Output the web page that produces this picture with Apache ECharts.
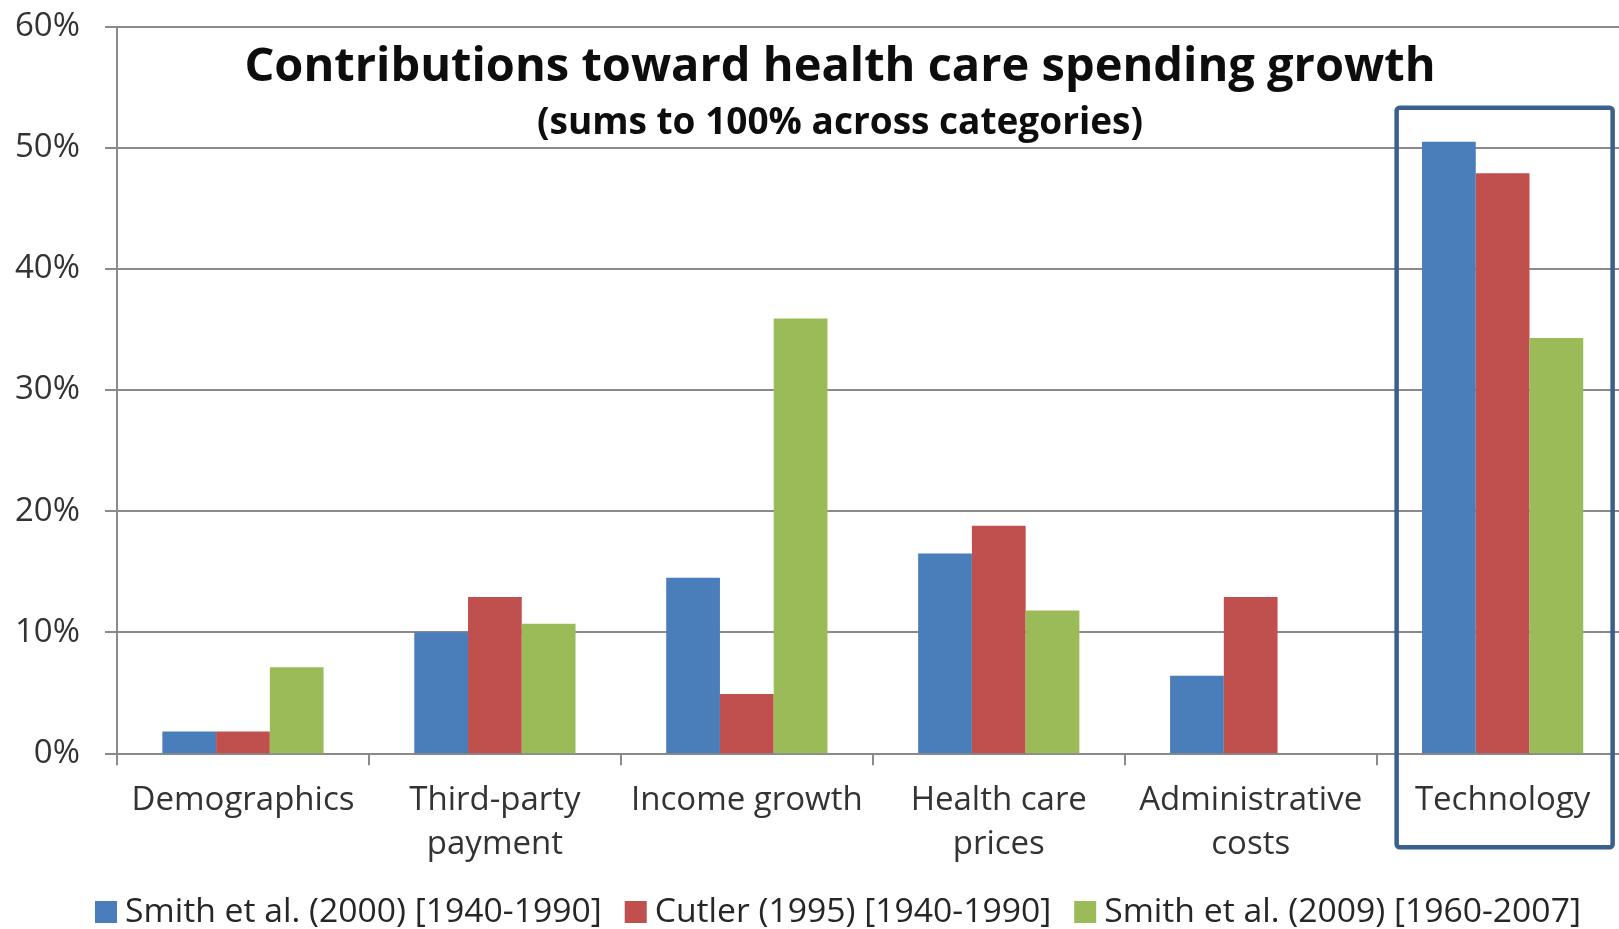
<!DOCTYPE html>
<html>
<head>
<meta charset="utf-8">
<title>Contributions toward health care spending growth</title>
<script src="https://cdn.jsdelivr.net/npm/echarts@6/dist/echarts.min.js"></script>
<style>
  html, body { margin: 0; padding: 0; background: #ffffff; }
  #chart { width: 1619px; height: 929px; }
</style>
</head>
<body>
<div id="chart"></div>
<script>
// Categories of health care spending growth
const categories = [
  'Demographics',
  'Third-party\npayment',
  'Income growth',
  'Health care\nprices',
  'Administrative\ncosts',
  'Technology'
];

// Share of spending growth (%) attributed to each category, by study
const smith2000 = [1.8, 10.0, 14.5, 16.5, 6.4, 50.5];
const cutler1995 = [1.8, 12.9, 4.9, 18.8, 12.9, 47.9];
const smith2009 = [7.1, 10.7, 35.9, 11.8, 0, 34.3];

const seriesNames = [
  'Smith et al. (2000) [1940-1990]',
  'Cutler (1995) [1940-1990]',
  'Smith et al. (2009) [1960-2007]'
];

const yTicks = [0, 10, 20, 30, 40, 50, 60];

const colors = ['#4a7ebb', '#c0504d', '#9bbb59'];
const font = '"Open Sans", Lato, sans-serif';

const chart = echarts.init(document.getElementById('chart'), null, { renderer: 'canvas' });

const option = {
  backgroundColor: '#ffffff',
  animation: false,
  color: colors,
  textStyle: { fontFamily: font },
  title: [
    {
      text: 'Contributions toward health care spending growth',
      left: 835,
      top: 39,
      textAlign: 'center',
      textStyle: { fontFamily: font, fontSize: 47, fontWeight: 'bold', color: '#0d0d0d' }
    },
    {
      text: '(sums to 100% across categories)',
      left: 835,
      top: 100,
      textAlign: 'center',
      textStyle: { fontFamily: font, fontSize: 37, fontWeight: 'bold', color: '#0d0d0d' }
    }
  ],
  legend: {
    left: 90,
    top: 890,
    itemWidth: 22,
    itemHeight: 22,
    itemGap: 23,
    icon: 'rect',
    textStyle: { fontFamily: font, fontSize: 33.7, color: '#262626', padding: [0, 0, 0, 3] },
    data: seriesNames
  },
  grid: {
    left: 117,
    right: -9.6,
    top: 26.7,
    bottom: 175.7,
    outerBoundsMode: 'none',
    containLabel: false
  },
  xAxis: {
    type: 'category',
    data: categories,
    axisLine: { show: true, lineStyle: { color: '#8a8a8a', width: 2 } },
    axisTick: { show: true, length: 12, lineStyle: { color: '#8a8a8a', width: 2 } },
    axisLabel: {
      interval: 0,
      fontFamily: font,
      fontSize: 33,
      lineHeight: 44,
      margin: 25,
      color: '#333333'
    }
  },
  yAxis: {
    type: 'value',
    min: yTicks[0],
    max: yTicks[yTicks.length - 1],
    interval: 10,
    axisLine: { show: true, lineStyle: { color: '#8a8a8a', width: 2 } },
    axisTick: { show: true, length: 12, lineStyle: { color: '#8a8a8a', width: 2 } },
    splitLine: { show: true, lineStyle: { color: '#8a8a8a', width: 2 } },
    axisLabel: {
      fontFamily: font,
      fontSize: 33,
      margin: 37,
      color: '#333333',
      formatter: '{value}%'
    }
  },
  series: [
    { name: seriesNames[0], type: 'bar', data: smith2000, barGap: '0%', barCategoryGap: '36%' },
    { name: seriesNames[1], type: 'bar', data: cutler1995, barGap: '0%', barCategoryGap: '36%' },
    { name: seriesNames[2], type: 'bar', data: smith2009, barGap: '0%', barCategoryGap: '36%' }
  ]
};

chart.setOption(option);

// Highlight frame around the Technology category
const techX = chart.convertToPixel({ xAxisIndex: 0 }, categories[5]);
const zeroY = chart.convertToPixel({ yAxisIndex: 0 }, 0);
const frameTop = chart.convertToPixel({ yAxisIndex: 0 }, 53.3);
chart.setOption({
  graphic: [{
    type: 'rect',
    shape: { x: techX - 106, y: frameTop, width: 216, height: zeroY + 94 - frameTop, r: 3 },
    style: { fill: 'none', stroke: '#3b5f8f', lineWidth: 4.5 },
    z: 100
  }]
});
</script>
</body>
</html>
